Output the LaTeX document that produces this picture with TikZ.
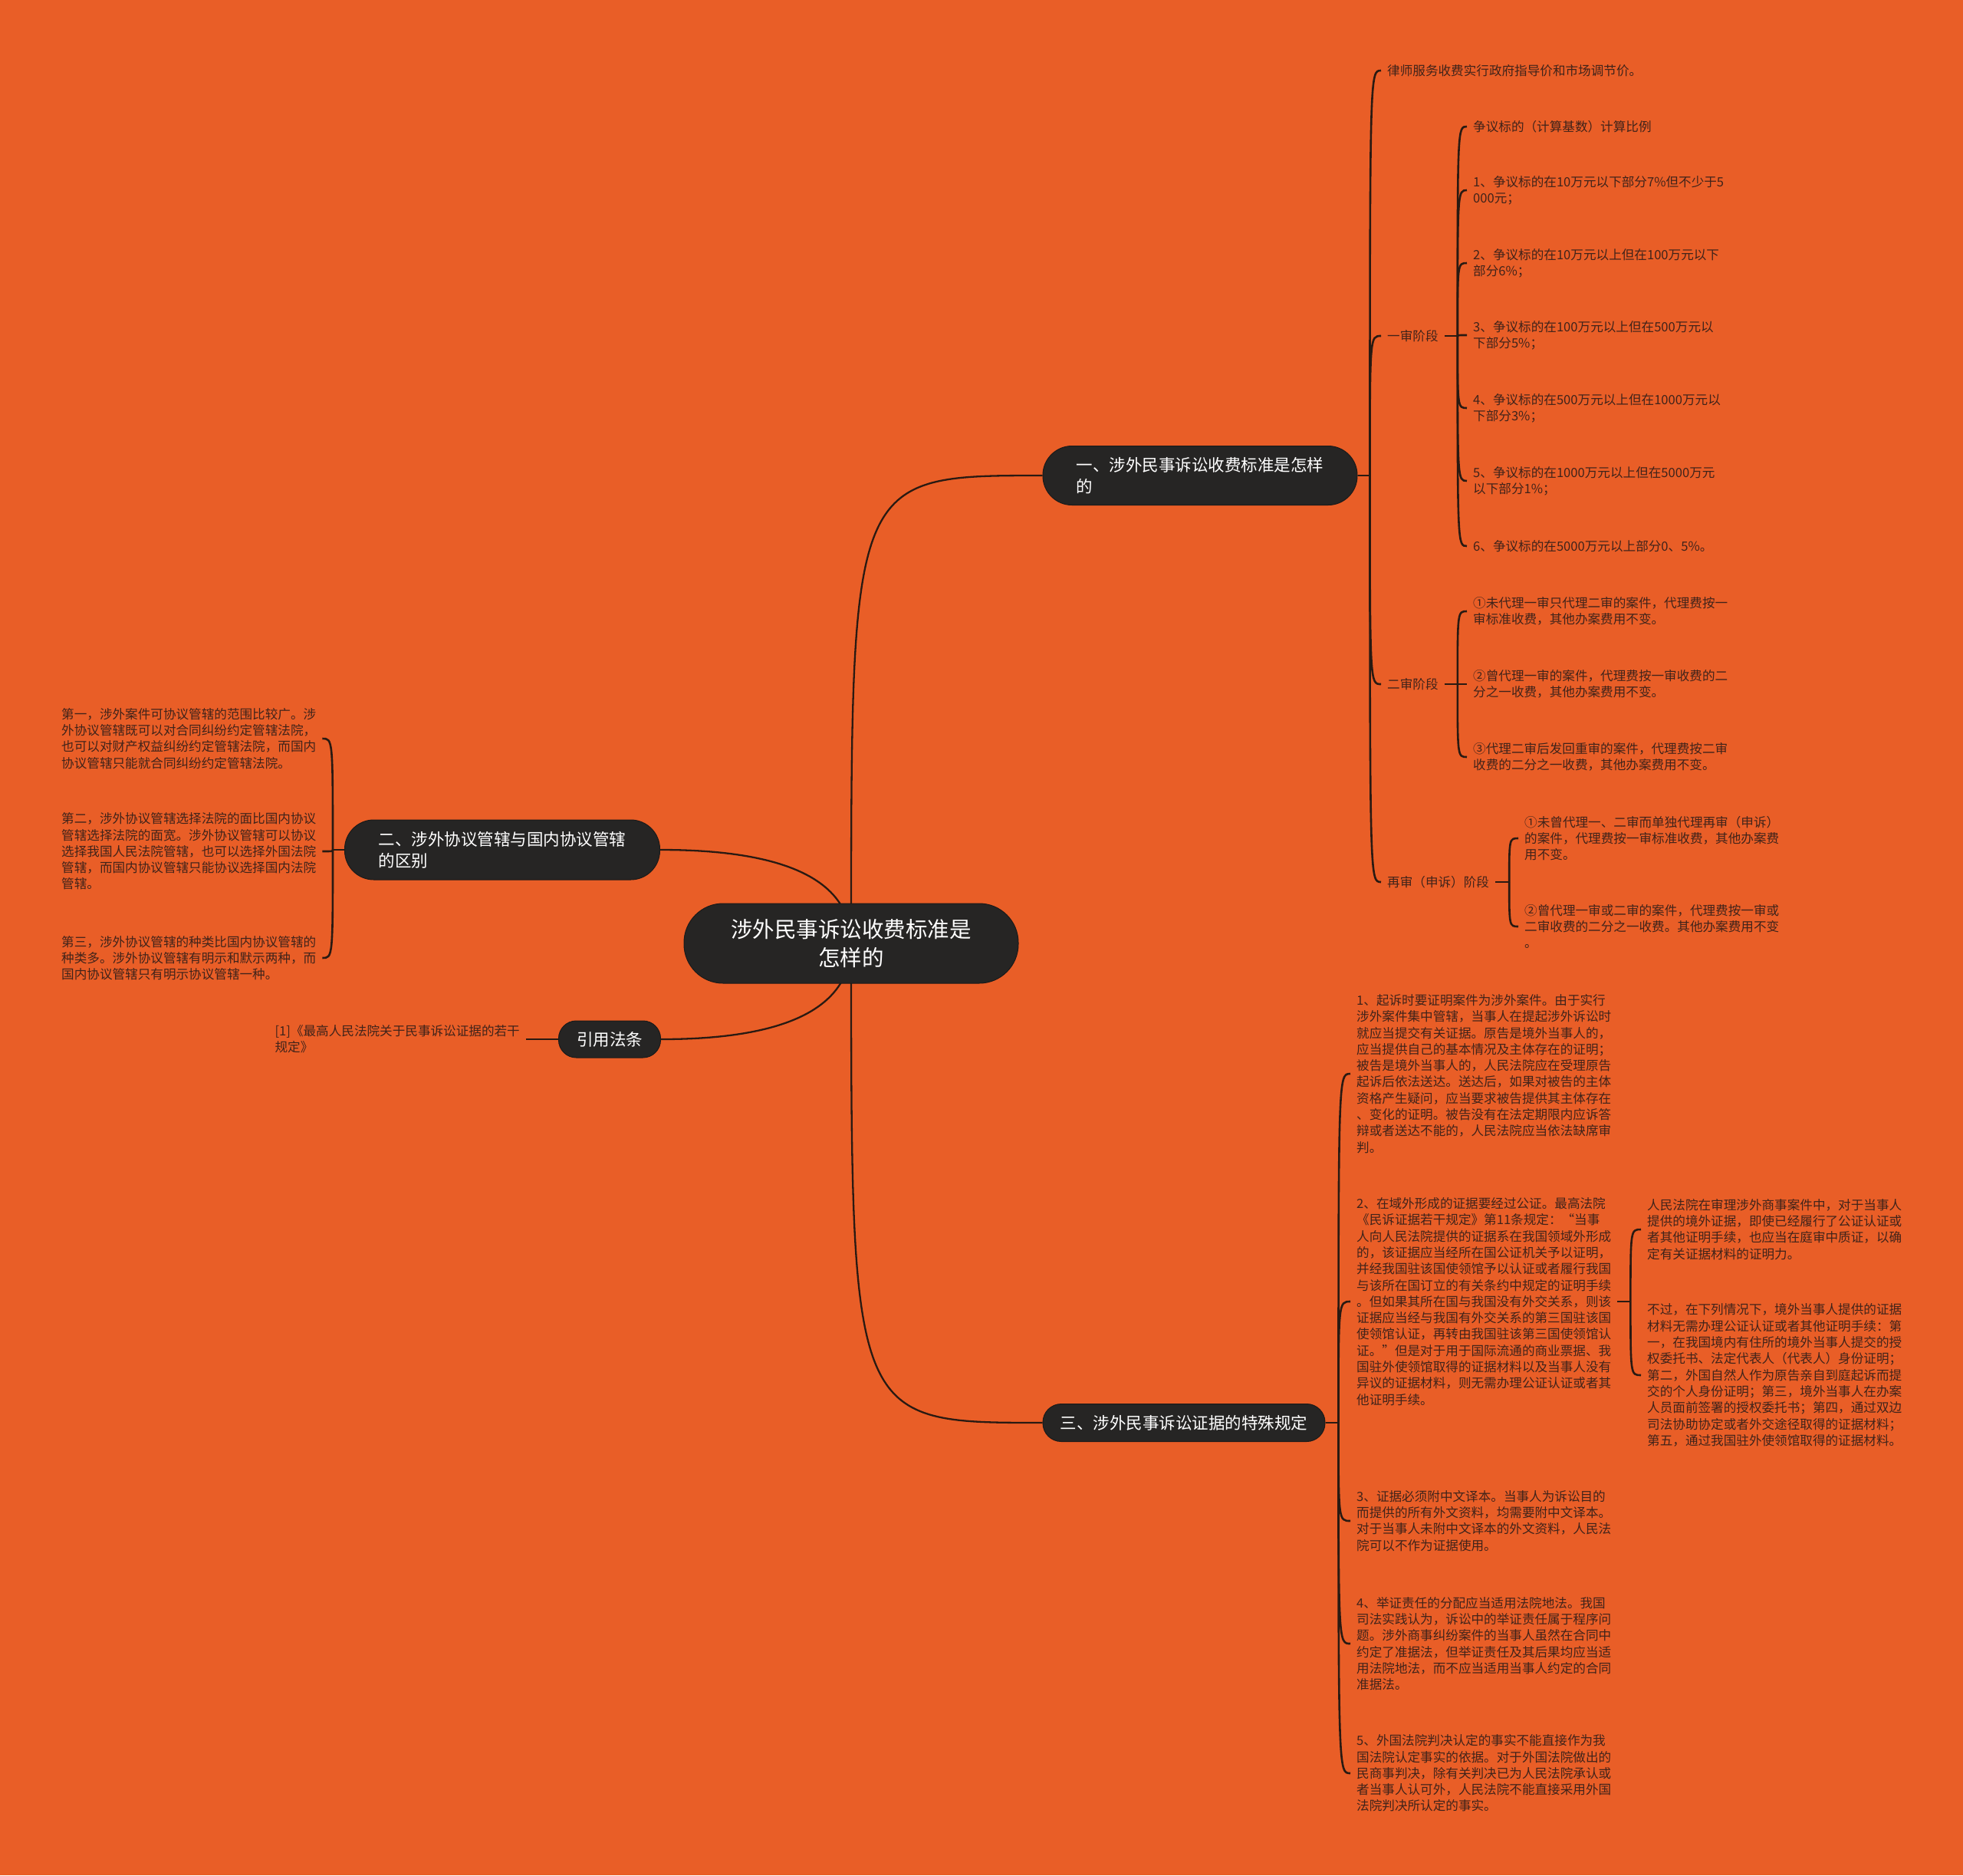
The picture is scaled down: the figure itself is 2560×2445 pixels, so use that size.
\documentclass[tikz,border=0pt]{standalone}
\usepackage{fontspec}
\setmainfont{Noto Sans CJK SC}
\usetikzlibrary{calc}
\definecolor{bgc}{HTML}{E95E27}
\definecolor{nodec}{HTML}{262524}
\definecolor{linec}{HTML}{2A1A12}
\definecolor{leafc}{HTML}{40231A}
\pgfdeclarelayer{back}
\pgfdeclarelayer{edges}
\pgfsetlayers{back,edges,main}
\begin{document}
\begin{tikzpicture}[x=1pt,y=-1pt,
  mainbox/.style={fill=nodec, draw=nodec!70!black, line width=1pt, text=white,
    font=\fontsize{21.5}{28}\selectfont, align=left, inner sep=0pt},
  leaf/.style={text=leafc, font=\fontsize{16.6}{21.3}\selectfont, align=left,
    inner xsep=8pt, inner ysep=2pt, anchor=west},
  edgeline/.style={draw=linec, line width=2.3pt},
  brline/.style={draw=linec, line width=2.6pt},
]
\useasboundingbox (0,0) rectangle (2560,2445);
\begin{pgfonlayer}{back}
\fill[bgc] (0,0) rectangle (2560,2445);
\end{pgfonlayer}

% main nodes
\node[mainbox, minimum width=436pt, minimum height=104pt, rounded corners=51pt, align=center,
  font=\fontsize{28.5}{37}\selectfont] (root) at (1110,1230) {涉外民事诉讼收费标准是\\怎样的};
\node[mainbox, minimum width=410pt, minimum height=77pt, rounded corners=38pt] (n1) at (1565,620)
  {一、涉外民事诉讼收费标准是怎样\\的};
\node[mainbox, minimum width=411pt, minimum height=78pt, rounded corners=38pt] (n2) at (655,1108)
  {二、涉外协议管辖与国内协议管辖\\的区别};
\node[mainbox, minimum width=133pt, minimum height=48pt, rounded corners=23pt] (n4) at (795,1355)
  {引用法条};
\node[mainbox, minimum width=368pt, minimum height=49pt, rounded corners=24pt] (n3) at (1544,1855)
  {三、涉外民事诉讼证据的特殊规定};

% branch 1
\node[leaf] (a0) at (1801,92) {律师服务收费实行政府指导价和市场调节价。};
\node[leaf] (yi) at (1801,438) {一审阶段};
\node[leaf] (er) at (1801,892) {二审阶段};
\node[leaf] (zai) at (1801,1150) {再审（申诉）阶段};

\node[leaf] (y0) at (1913,165) {争议标的（计算基数）计算比例};
\node[leaf] (y1) at (1913,248) {1、争议标的在10万元以下部分7\%但不少于5\\000元；};
\node[leaf] (y2) at (1913,343) {2、争议标的在10万元以上但在100万元以下\\部分6\%；};
\node[leaf] (y3) at (1913,437) {3、争议标的在100万元以上但在500万元以\\下部分5\%；};
\node[leaf] (y4) at (1913,532) {4、争议标的在500万元以上但在1000万元以\\下部分3\%；};
\node[leaf] (y5) at (1913,627) {5、争议标的在1000万元以上但在5000万元\\以下部分1\%；};
\node[leaf] (y6) at (1913,712) {6、争议标的在5000万元以上部分0、5\%。};

\node[leaf] (e1) at (1913,797) {①未代理一审只代理二审的案件，代理费按一\\审标准收费，其他办案费用不变。};
\node[leaf] (e2) at (1913,892) {②曾代理一审的案件，代理费按一审收费的二\\分之一收费，其他办案费用不变。};
\node[leaf] (e3) at (1913,987) {③代理二审后发回重审的案件，代理费按二审\\收费的二分之一收费，其他办案费用不变。};

\node[leaf] (z1) at (1980,1093) {①未曾代理一、二审而单独代理再审（申诉）\\的案件，代理费按一审标准收费，其他办案费\\用不变。};
\node[leaf] (z2) at (1980,1208) {②曾代理一审或二审的案件，代理费按一审或\\二审收费的二分之一收费。其他办案费用不变\\。};

% branch 2
\node[leaf] (b1) at (72,963) {第一，涉外案件可协议管辖的范围比较广。涉\\外协议管辖既可以对合同纠纷约定管辖法院，\\也可以对财产权益纠纷约定管辖法院，而国内\\协议管辖只能就合同纠纷约定管辖法院。};
\node[leaf] (b2) at (72,1110) {第二，涉外协议管辖选择法院的面比国内协议\\管辖选择法院的面宽。涉外协议管辖可以协议\\选择我国人民法院管辖，也可以选择外国法院\\管辖，而国内协议管辖只能协议选择国内法院\\管辖。};
\node[leaf] (b3) at (72,1249) {第三，涉外协议管辖的种类比国内协议管辖的\\种类多。涉外协议管辖有明示和默示两种，而\\国内协议管辖只有明示协议管辖一种。};

% branch 4
\node[leaf, anchor=east] (c1) at (686,1355) {[1]《最高人民法院关于民事诉讼证据的若干\\规定》};

% branch 3
\node[leaf] (t1) at (1761,1400) {1、起诉时要证明案件为涉外案件。由于实行\\涉外案件集中管辖，当事人在提起涉外诉讼时\\就应当提交有关证据。原告是境外当事人的，\\应当提供自己的基本情况及主体存在的证明；\\被告是境外当事人的，人民法院应在受理原告\\起诉后依法送达。送达后，如果对被告的主体\\资格产生疑问，应当要求被告提供其主体存在\\、变化的证明。被告没有在法定期限内应诉答\\辩或者送达不能的，人民法院应当依法缺席审\\判。};
\node[leaf] (t2) at (1761,1697) {2、在域外形成的证据要经过公证。最高法院\\《民诉证据若干规定》第11条规定：“当事\\人向人民法院提供的证据系在我国领域外形成\\的，该证据应当经所在国公证机关予以证明，\\并经我国驻该国使领馆予以认证或者履行我国\\与该所在国订立的有关条约中规定的证明手续\\。但如果其所在国与我国没有外交关系，则该\\证据应当经与我国有外交关系的第三国驻该国\\使领馆认证，再转由我国驻该第三国使领馆认\\证。”但是对于用于国际流通的商业票据、我\\国驻外使领馆取得的证据材料以及当事人没有\\异议的证据材料，则无需办理公证认证或者其\\他证明手续。};
\node[leaf] (t3) at (1761,1983) {3、证据必须附中文译本。当事人为诉讼目的\\而提供的所有外文资料，均需要附中文译本。\\对于当事人未附中文译本的外文资料，人民法\\院可以不作为证据使用。};
\node[leaf] (t4) at (1761,2143) {4、举证责任的分配应当适用法院地法。我国\\司法实践认为，诉讼中的举证责任属于程序问\\题。涉外商事纠纷案件的当事人虽然在合同中\\约定了准据法，但举证责任及其后果均应当适\\用法院地法，而不应当适用当事人约定的合同\\准据法。};
\node[leaf] (t5) at (1761,2312) {5、外国法院判决认定的事实不能直接作为我\\国法院认定事实的依据。对于外国法院做出的\\民商事判决，除有关判决已为人民法院承认或\\者当事人认可外，人民法院不能直接采用外国\\法院判决所认定的事实。};

\node[leaf] (u1) at (2140,1603) {人民法院在审理涉外商事案件中，对于当事人\\提供的境外证据，即使已经履行了公证认证或\\者其他证明手续，也应当在庭审中质证，以确\\定有关证据材料的证明力。};
\node[leaf] (u2) at (2140,1793) {不过，在下列情况下，境外当事人提供的证据\\材料无需办理公证认证或者其他证明手续：第\\一，在我国境内有住所的境外当事人提交的授\\权委托书、法定代表人（代表人）身份证明；\\第二，外国自然人作为原告亲自到庭起诉而提\\交的个人身份证明；第三，境外当事人在办案\\人员面前签署的授权委托书；第四，通过双边\\司法协助协定或者外交途径取得的证据材料；\\第五，通过我国驻外使领馆取得的证据材料。};

\begin{pgfonlayer}{edges}
% root connectors
\draw[edgeline] (root.center) .. controls (root.center|-n1.west) .. (n1.west);
\draw[edgeline] (root.center) .. controls (root.center|-n3.west) .. (n3.west);
\draw[edgeline] (root.center) .. controls ($(root.center)!0.667!(root.center|-n2.east)$)
  and ($(n2.east)!0.667!(root.center|-n2.east)$) .. (n2.east);
\draw[edgeline] (root.center) .. controls ($(root.center)!0.667!(root.center|-n4.east)$)
  and ($(n4.east)!0.667!(root.center|-n4.east)$) .. (n4.east);

% branch 1
\draw[brline] (n1.east) -- ++(16,0) coordinate (j1);
\foreach \c in {a0,yi,er,zai}
  \draw[brline] (j1) .. controls (j1|-\c.west) .. (\c.west);
\draw[brline] (yi.east) -- ++(17,0) coordinate (jy);
\foreach \c in {y0,y1,y2,y3,y4,y5,y6}
  \draw[brline] (jy) .. controls (jy|-\c.west) .. (\c.west);
\draw[brline] (er.east) -- ++(17,0) coordinate (je);
\foreach \c in {e1,e2,e3}
  \draw[brline] (je) .. controls (je|-\c.west) .. (\c.west);
\draw[brline] (zai.east) -- ++(18,0) coordinate (jz);
\foreach \c in {z1,z2}
  \draw[brline] (jz) .. controls (jz|-\c.west) .. (\c.west);

% branch 2
\draw[brline] (n2.west) -- ++(-15,0) coordinate (j2);
\foreach \c in {b1,b2,b3}
  \draw[brline] (j2) .. controls (j2|-\c.east) .. (\c.east);

% branch 4
\draw[brline] (n4.west) -- (c1.east);

% branch 3
\draw[brline] (n3.east) -- ++(17,0) coordinate (j3);
\foreach \c in {t1,t2,t3,t4,t5}
  \draw[brline] (j3) .. controls (j3|-\c.west) .. (\c.west);
\draw[brline] (t2.east) -- ++(17,0) coordinate (jt);
\foreach \c in {u1,u2}
  \draw[brline] (jt) .. controls (jt|-\c.west) .. (\c.west);
\end{pgfonlayer}
\end{tikzpicture}
\end{document}
